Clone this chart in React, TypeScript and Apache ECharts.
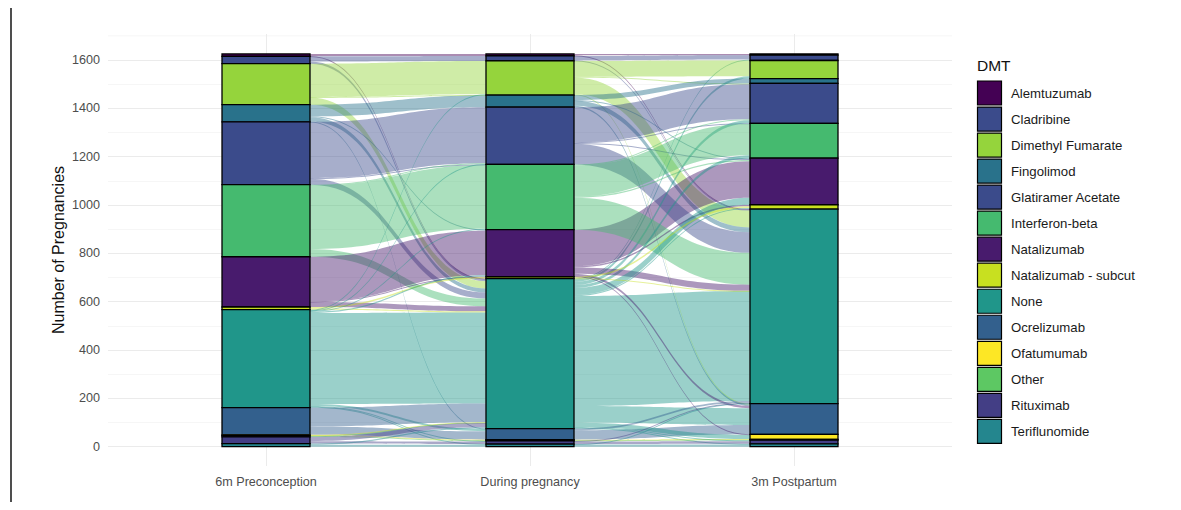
import React, { useEffect, useRef } from 'react';
import * as echarts from 'echarts';

const categories = [
  'Alemtuzumab', 'Cladribine', 'Dimethyl Fumarate', 'Fingolimod', 'Glatiramer Acetate',
  'Interferon-beta', 'Natalizumab', 'Natalizumab - subcut', 'None', 'Ocrelizumab',
  'Ofatumumab', 'Other', 'Rituximab', 'Teriflunomide',
];
const palette = [
  '#440154', '#3B4B8B', '#95D43C', '#29728B', '#3B4B8B',
  '#45BA6F', '#481B6D', '#C8E020', '#20968A', '#33608D',
  '#FDE725', '#5DC863', '#433E85', '#24868E',
];
const stages = ['6m Preconception', 'During pregnancy', '3m Postpartum'];
const yTickValues = [0, 200, 400, 600, 800, 1000, 1200, 1400, 1600];

// pathways: [preconception, during pregnancy, postpartum, pregnancies]
const pathways: [string, string, string, number][] = [
  ['Alemtuzumab', 'Alemtuzumab', 'Alemtuzumab', 5],
  ['Alemtuzumab', 'Alemtuzumab', 'None', 3],
  ['Alemtuzumab', 'None', 'None', 2],
  ['Cladribine', 'Cladribine', 'Cladribine', 18],
  ['Cladribine', 'Cladribine', 'None', 3],
  ['Cladribine', 'None', 'None', 7],
  ['Cladribine', 'None', 'Cladribine', 2],
  ['Dimethyl Fumarate', 'Dimethyl Fumarate', 'Dimethyl Fumarate', 62],
  ['Dimethyl Fumarate', 'Dimethyl Fumarate', 'None', 70],
  ['Dimethyl Fumarate', 'Dimethyl Fumarate', 'Glatiramer Acetate', 3],
  ['Dimethyl Fumarate', 'Dimethyl Fumarate', 'Ocrelizumab', 3],
  ['Dimethyl Fumarate', 'None', 'None', 22],
  ['Dimethyl Fumarate', 'None', 'Dimethyl Fumarate', 6],
  ['Dimethyl Fumarate', 'Fingolimod', 'Fingolimod', 2],
  ['Dimethyl Fumarate', 'None', 'Ocrelizumab', 2],
  ['Fingolimod', 'Fingolimod', 'Fingolimod', 18],
  ['Fingolimod', 'Fingolimod', 'None', 20],
  ['Fingolimod', 'Fingolimod', 'Ocrelizumab', 6],
  ['Fingolimod', 'Fingolimod', 'Natalizumab', 4],
  ['Fingolimod', 'None', 'None', 12],
  ['Fingolimod', 'None', 'Ocrelizumab', 5],
  ['Fingolimod', 'Natalizumab', 'Natalizumab', 4],
  ['Fingolimod', 'Ocrelizumab', 'Ocrelizumab', 2],
  ['Glatiramer Acetate', 'Glatiramer Acetate', 'Glatiramer Acetate', 140],
  ['Glatiramer Acetate', 'Glatiramer Acetate', 'None', 85],
  ['Glatiramer Acetate', 'Glatiramer Acetate', 'Interferon-beta', 3],
  ['Glatiramer Acetate', 'Glatiramer Acetate', 'Natalizumab', 4],
  ['Glatiramer Acetate', 'None', 'None', 18],
  ['Glatiramer Acetate', 'None', 'Glatiramer Acetate', 5],
  ['Glatiramer Acetate', 'Interferon-beta', 'Interferon-beta', 3],
  ['Glatiramer Acetate', 'None', 'Ocrelizumab', 2],
  ['Interferon-beta', 'Interferon-beta', 'Interferon-beta', 122],
  ['Interferon-beta', 'Interferon-beta', 'None', 132],
  ['Interferon-beta', 'Interferon-beta', 'Glatiramer Acetate', 4],
  ['Interferon-beta', 'Interferon-beta', 'Natalizumab', 5],
  ['Interferon-beta', 'None', 'None', 26],
  ['Interferon-beta', 'None', 'Interferon-beta', 6],
  ['Interferon-beta', 'Glatiramer Acetate', 'Glatiramer Acetate', 3],
  ['Natalizumab', 'Natalizumab', 'Natalizumab', 142],
  ['Natalizumab', 'Natalizumab', 'None', 25],
  ['Natalizumab', 'Natalizumab', 'Ocrelizumab', 10],
  ['Natalizumab', 'Natalizumab', 'Natalizumab - subcut', 6],
  ['Natalizumab', 'None', 'Natalizumab', 14],
  ['Natalizumab', 'None', 'None', 7],
  ['Natalizumab', 'Natalizumab - subcut', 'Natalizumab - subcut', 2],
  ['Natalizumab', 'Natalizumab', 'Ofatumumab', 2],
  ['Natalizumab - subcut', 'Natalizumab - subcut', 'Natalizumab - subcut', 5],
  ['Natalizumab - subcut', 'None', 'Natalizumab - subcut', 3],
  ['Natalizumab - subcut', 'None', 'None', 2],
  ['Natalizumab - subcut', 'Natalizumab - subcut', 'None', 1],
  ['None', 'None', 'None', 292],
  ['None', 'None', 'Ocrelizumab', 30],
  ['None', 'None', 'Natalizumab', 15],
  ['None', 'None', 'Glatiramer Acetate', 8],
  ['None', 'None', 'Interferon-beta', 6],
  ['None', 'None', 'Ofatumumab', 14],
  ['None', 'None', 'Dimethyl Fumarate', 4],
  ['None', 'None', 'Cladribine', 2],
  ['None', 'None', 'Natalizumab - subcut', 2],
  ['None', 'None', 'Teriflunomide', 3],
  ['None', 'Glatiramer Acetate', 'Glatiramer Acetate', 2],
  ['None', 'Interferon-beta', 'Interferon-beta', 4],
  ['None', 'Natalizumab', 'Natalizumab', 5],
  ['None', 'Dimethyl Fumarate', 'Dimethyl Fumarate', 3],
  ['None', 'Ocrelizumab', 'Ocrelizumab', 9],
  ['None', 'Rituximab', 'Rituximab', 3],
  ['None', 'Teriflunomide', 'Teriflunomide', 3],
  ['Ocrelizumab', 'Ocrelizumab', 'Ocrelizumab', 28],
  ['Ocrelizumab', 'Ocrelizumab', 'None', 7],
  ['Ocrelizumab', 'None', 'Ocrelizumab', 30],
  ['Ocrelizumab', 'None', 'None', 46],
  ['Ocrelizumab', 'None', 'Ofatumumab', 2],
  ['Ofatumumab', 'Ofatumumab', 'Ofatumumab', 2],
  ['Ofatumumab', 'None', 'Ofatumumab', 1],
  ['Other', 'Other', 'Other', 3],
  ['Other', 'None', 'None', 2],
  ['Rituximab', 'Rituximab', 'Rituximab', 8],
  ['Rituximab', 'Rituximab', 'None', 2],
  ['Rituximab', 'None', 'None', 14],
  ['Rituximab', 'None', 'Rituximab', 4],
  ['Teriflunomide', 'Teriflunomide', 'Teriflunomide', 6],
  ['Teriflunomide', 'Teriflunomide', 'None', 2],
  ['Teriflunomide', 'None', 'None', 5],
];

const FONT = '"Liberation Sans", Arial, Helvetica, sans-serif';

export default function App() {
  const ref = useRef<HTMLDivElement>(null);

  useEffect(() => {
    const chart = echarts.init(ref.current as HTMLDivElement, null, { renderer: 'svg' });
    const W = 1181;
    const H = 510;
    const panelLeft = 108;
    const panelRight = 952;
    const yZeroPx = 446.7;
    const yTopPx = 60; // pixel of 1600
    const pxPerUnit = (yZeroPx - yTopPx) / 1600;
    const colorOf = (c: string) => palette[categories.indexOf(c)];

    const totals = stages.map(() => new Map<string, number>());
    pathways.forEach((p) => {
      for (let s = 0; s < 3; s++) totals[s].set(p[s], (totals[s].get(p[s]) || 0) + p[3]);
    });
    const nodes: any[] = [];
    stages.forEach((_, s) =>
      categories.forEach((c) => {
        if (totals[s].get(c)) {
          nodes.push({
            name: c + '@' + s,
            itemStyle: { color: colorOf(c), borderColor: '#000', borderWidth: 1.3 },
          });
        }
      })
    );
    const linkMap = new Map<string, number>();
    pathways.forEach((p) => {
      for (let s = 0; s < 2; s++) {
        const k = p[s] + '@' + s + '>' + p[s + 1] + '@' + (s + 1);
        linkMap.set(k, (linkMap.get(k) || 0) + p[3]);
      }
    });
    const links = Array.from(linkMap.entries()).map(([k, v]) => {
      const [a, b] = k.split('>');
      return { source: a, target: b, value: v };
    });
    const total = pathways.reduce((acc, p) => acc + p[3], 0);
    const sankeyHeight = total * pxPerUnit;

    const legendStep = 26.03;
    const legendTop = 81;
    const frameStyle = { stroke: '#222', lineWidth: 1.6 };
    const graphics: any[] = [
      { type: 'line', shape: { x1: 11, y1: 5, x2: 1178, y2: 5 }, style: frameStyle, silent: true, z: 10 },
      { type: 'line', shape: { x1: 11, y1: 5, x2: 11, y2: 512 }, style: frameStyle, silent: true, z: 10 },
      { type: 'line', shape: { x1: 1178, y1: 5, x2: 1178, y2: 512 }, style: frameStyle, silent: true, z: 10 },
      {
        type: 'line',
        shape: { x1: panelLeft, y1: yZeroPx - 1700 * pxPerUnit, x2: panelRight, y2: yZeroPx - 1700 * pxPerUnit },
        style: { stroke: '#f2f2f2', lineWidth: 0.7 },
        z: -1,
        silent: true,
      },
      {
        type: 'text',
        x: 58.5,
        y: 250,
        rotation: Math.PI / 2,
        style: { text: 'Number of Pregnancies', align: 'center', verticalAlign: 'middle', font: '16px ' + FONT, fill: '#111' },
      },
      {
        type: 'text',
        x: 977,
        y: 65,
        style: { text: 'DMT', align: 'left', verticalAlign: 'middle', font: '15.5px ' + FONT, fill: '#111' },
      },
    ];
    categories.forEach((c, i) => {
      const y = legendTop + i * legendStep;
      graphics.push({
        type: 'rect',
        shape: { x: 977.5, y, width: 24, height: 24 },
        style: { fill: colorOf(c), stroke: '#000', lineWidth: 1.2 },
      });
      graphics.push({
        type: 'text',
        x: 1011,
        y: y + 12,
        style: { text: c, align: 'left', verticalAlign: 'middle', font: '13.2px ' + FONT, fill: '#1a1a1a' },
      });
    });

    chart.setOption({
      animation: false,
      textStyle: { fontFamily: FONT },
      tooltip: { show: false },
      grid: [
        { left: panelLeft, right: W - panelRight, top: yTopPx, bottom: H - yZeroPx },
        { left: 266, right: W - 794, top: 34, bottom: H - 466 },
      ],
      xAxis: [
        { gridIndex: 0, type: 'value', show: false, min: 0, max: 1 },
        {
          gridIndex: 1, type: 'value', min: 1, max: 3, interval: 1,
          axisLine: { show: false }, axisTick: { show: false },
          axisLabel: {
            formatter: (v: number) => stages[Math.round(v) - 1] ?? '',
            color: '#4d4d4d', fontSize: 12.6, fontFamily: FONT, margin: 9, showMinLabel: true, showMaxLabel: true,
          },
          splitLine: { show: true, lineStyle: { color: '#ebebeb', width: 1 } },
        },
      ],
      yAxis: [
        {
          gridIndex: 0, type: 'value', min: 0, max: 1600, interval: 200,
          axisLine: { show: false }, axisTick: { show: false },
          axisLabel: {
            formatter: (v: number) => (yTickValues.includes(v) ? String(v) : ''),
            color: '#4d4d4d', fontSize: 12.6, fontFamily: FONT, margin: 8,
          },
          splitLine: { show: true, lineStyle: { color: '#ebebeb', width: 1 } },
          minorTick: { show: false, splitNumber: 2 },
          minorSplitLine: { show: true, lineStyle: { color: '#f2f2f2', width: 0.7 } },
        },
        { gridIndex: 1, type: 'value', show: false, min: 0, max: 1 },
      ],
      graphic: graphics,
      series: [
        {
          type: 'sankey', left: 222, top: yZeroPx - sankeyHeight, width: 616, height: sankeyHeight,
          nodeWidth: 88, nodeGap: 0, layoutIterations: 0, nodeAlign: 'justify', draggable: false, silent: true,
          label: { show: false }, emphasis: { disabled: true },
          lineStyle: { color: 'source', opacity: 0.45, curveness: 0.5 },
          data: nodes, links, z: 3,
        },
      ],
    });

    return () => chart.dispose();
  }, []);

  return (
    <div style={{ margin: -8, width: 1181, height: 510, position: 'relative', overflow: 'hidden', background: '#fff' }}>
      <div ref={ref} style={{ position: 'absolute', left: 0, top: 0, width: 1181, height: 510 }} />
    </div>
  );
}
